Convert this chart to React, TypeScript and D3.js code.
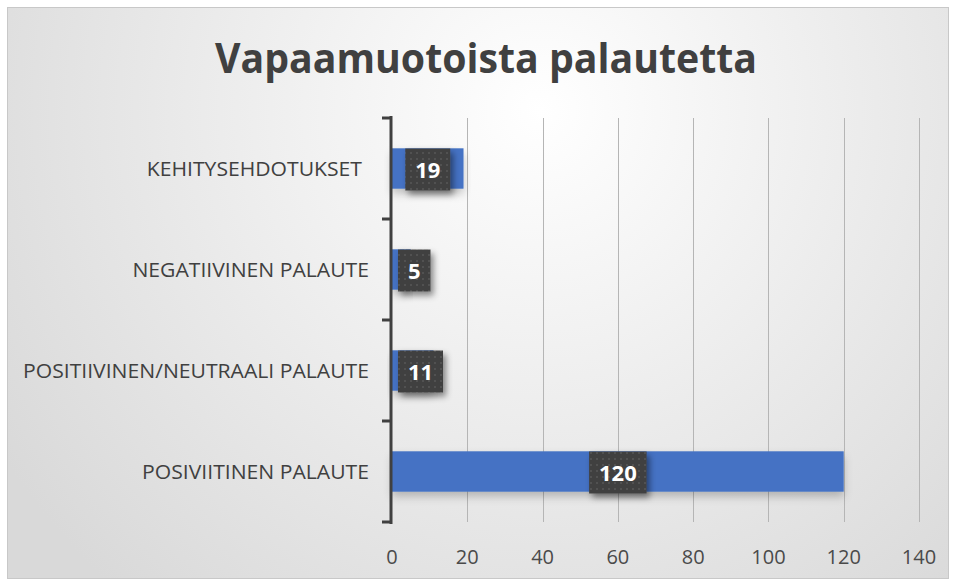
import React, { useEffect, useRef } from "react";
import * as d3 from "d3";

const categories = [
  "KEHITYSEHDOTUKSET ",
  "NEGATIIVINEN PALAUTE",
  "POSITIIVINEN/NEUTRAALI PALAUTE",
  "POSIVIITINEN PALAUTE",
];
const values = [19, 5, 11, 120];
const xTicks = [0, 20, 40, 60, 80, 100, 120, 140];
const title = "Vapaamuotoista palautetta";

export default function App() {
  const ref = useRef<SVGSVGElement>(null);

  useEffect(() => {
    const W = 953;
    const H = 583;
    const svg = d3.select(ref.current);
    svg.selectAll("*").remove();

    const defs = svg.append("defs");
    const bg = defs
      .append("radialGradient")
      .attr("id", "bg")
      .attr("gradientUnits", "userSpaceOnUse")
      .attr("cx", 540)
      .attr("cy", 110)
      .attr("r", 640);
    bg.append("stop").attr("offset", "0%").attr("stop-color", "#ffffff");
    bg.append("stop").attr("offset", "100%").attr("stop-color", "#d9d9d9");

    const pat = defs
      .append("pattern")
      .attr("id", "dots")
      .attr("width", 6)
      .attr("height", 6)
      .attr("patternUnits", "userSpaceOnUse");
    pat.append("rect").attr("width", 6).attr("height", 6).attr("fill", "#404040");
    pat.append("circle").attr("cx", 3).attr("cy", 3).attr("r", 1).attr("fill", "#575757");

    const sh = defs
      .append("filter")
      .attr("id", "shadow")
      .attr("x", "-30%")
      .attr("y", "-30%")
      .attr("width", "170%")
      .attr("height", "170%");
    sh.append("feDropShadow")
      .attr("dx", 3)
      .attr("dy", 4)
      .attr("stdDeviation", 3)
      .attr("flood-color", "#000")
      .attr("flood-opacity", 0.45);

    const bsh = defs
      .append("filter")
      .attr("id", "barshadow")
      .attr("x", "-10%")
      .attr("y", "-30%")
      .attr("width", "120%")
      .attr("height", "170%");
    bsh.append("feDropShadow")
      .attr("dx", 0)
      .attr("dy", 5)
      .attr("stdDeviation", 4)
      .attr("flood-color", "#000")
      .attr("flood-opacity", 0.22);

    // chart area
    svg
      .append("rect")
      .attr("x", 7.5)
      .attr("y", 7.5)
      .attr("width", W - 12)
      .attr("height", H - 12)
      .attr("fill", "url(#bg)")
      .attr("stroke", "#c8c8c8")
      .attr("stroke-width", 1);

    svg
      .append("text")
      .attr("x", 486)
      .attr("y", 73)
      .attr("text-anchor", "middle")
      .attr("font-family", "Open Sans, sans-serif")
      .attr("font-weight", 700)
      .attr("font-size", 42)
      .attr("fill", "#404040")
      .attr("textLength", 542)
      .attr("lengthAdjust", "spacingAndGlyphs")
      .text(title);

    const x = d3.scaleLinear().domain([0, 140]).range([392, 919]);
    const y = d3
      .scaleBand<string>()
      .domain(categories)
      .range([118, 522])
      .paddingInner(0.6)
      .paddingOuter(0.3);

    // gridlines
    svg
      .append("g")
      .selectAll("line")
      .data(xTicks.filter((d) => d > 0))
      .join("line")
      .attr("x1", (d) => Math.round(x(d)) + 0.5)
      .attr("x2", (d) => Math.round(x(d)) + 0.5)
      .attr("y1", 118)
      .attr("y2", 522)
      .attr("stroke", "#b5b5b5")
      .attr("stroke-width", 1);

    // x tick labels
    svg
      .append("g")
      .selectAll("text")
      .data(xTicks)
      .join("text")
      .attr("x", (d) => x(d))
      .attr("y", 564)
      .attr("text-anchor", "middle")
      .attr("font-family", "Open Sans, sans-serif")
      .attr("font-size", 20)
      .attr("fill", "#4a4a4a")
      .text((d) => d);

    // bars
    svg
      .append("g")
      .selectAll("rect")
      .data(values)
      .join("rect")
      .attr("x", x(0))
      .attr("y", (d, i) => y(categories[i])!)
      .attr("width", (d) => x(d) - x(0))
      .attr("height", y.bandwidth())
      .attr("fill", "#4472c4")
      .attr("filter", "url(#barshadow)");

    // y axis
    const band = y.step();
    const bounds = d3.range(categories.length + 1).map((i) => 118 + i * band);
    svg
      .append("line")
      .attr("x1", 391)
      .attr("x2", 391)
      .attr("y1", 116)
      .attr("y2", 524)
      .attr("stroke", "#404040")
      .attr("stroke-width", 3);
    svg
      .append("g")
      .selectAll("line")
      .data(bounds)
      .join("line")
      .attr("x1", 382)
      .attr("x2", 392)
      .attr("y1", (d) => d)
      .attr("y2", (d) => d)
      .attr("stroke", "#404040")
      .attr("stroke-width", 3);

    // category labels (condensed to mimic the narrow original font)
    const labels = svg
      .append("g")
      .selectAll("text")
      .data(categories)
      .join("text")
      .attr("x", (d) => (d.endsWith(" ") ? 362 : 369))
      .attr("y", (d) => y(d)! + y.bandwidth() / 2 + 7)
      .attr("text-anchor", "end")
      .attr("font-family", "Open Sans, sans-serif")
      .attr("font-size", 20)
      .attr("fill", "#404040")
      .text((d) => d.trim());
    const nodes = labels.nodes() as SVGTextElement[];
    const longest = d3.max(nodes, (n) => n.getComputedTextLength()) || 1;
    const k = 346 / longest;
    labels
      .attr("textLength", (d, i) => (nodes[i].getComputedTextLength() * k).toFixed(1))
      .attr("lengthAdjust", "spacingAndGlyphs");

    // data labels
    const lg = svg.append("g");
    values.forEach((v, i) => {
      const cy = y(categories[i])! + y.bandwidth() / 2;
      const w = String(v).length * 12.5 + 20;
      const h = 42;
      const center = (x(0) + x(v)) / 2;
      const left = Math.max(center - w / 2, x(0) + 6);
      const g = lg.append("g");
      g.append("rect")
        .attr("x", left)
        .attr("y", cy - h / 2 + 1)
        .attr("width", w)
        .attr("height", h)
        .attr("fill", "url(#dots)")
        .attr("filter", "url(#shadow)");
      g.append("text")
        .attr("x", left + w / 2)
        .attr("y", cy + 9.5)
        .attr("text-anchor", "middle")
        .attr("font-family", "Open Sans, sans-serif")
        .attr("font-weight", 700)
        .attr("font-size", 22)
        .attr("fill", "#ffffff")
        .text(v);
    });
  }, []);

  return (
    <svg
      ref={ref}
      width={953}
      height={583}
      style={{ position: "absolute", left: 0, top: 0 }}
    />
  );
}
